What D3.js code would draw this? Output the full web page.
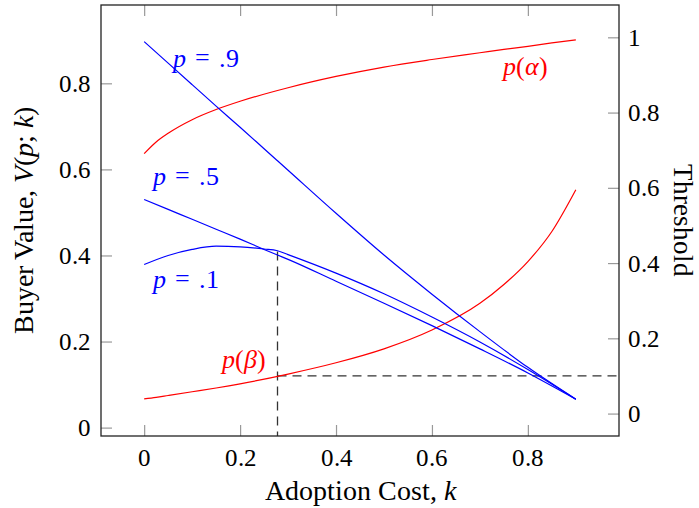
<!DOCTYPE html>
<html>
<head>
<meta charset="utf-8">
<script src="https://cdn.jsdelivr.net/npm/d3@7"></script>
<style>
  @font-face { font-family: "ChartSerif"; font-style: normal;
    src: local("Liberation Serif"), local("LiberationSerif"), local("LiberationSerif-Regular"),
         local("DejaVu Serif"), local("DejaVuSerif"), local("Tinos"); }
  @font-face { font-family: "ChartSerif"; font-style: italic;
    src: local("Liberation Serif Italic"), local("LiberationSerif-Italic"),
         local("DejaVu Serif Italic"), local("DejaVuSerif-Italic"), local("Tinos Italic"); }
  body { margin: 0; background: #fff; }
  svg text { font-family: ChartSerif, "Liberation Serif", "DejaVu Serif", serif; }
</style>
</head>
<body>
<div id="chart"></div>
<script>
var width = 699, height = 508;
var margin = {left: 101, right: 80, top: 5, bottom: 72};
var serif = 'ChartSerif, "Liberation Serif", "DejaVu Serif", serif';

// adoption cost samples and buyer values (left axis)
var kBlue = [0, .05, .1, .15, .2, .25, .278, .3, .4, .5, .6, .7, .8, .9];
var valueP1 = [.379, .400, .414, .4215, .420, .415, .411, .402, .359, .311, .257, .199, .135, .066];
var valueP5 = [.530, .507, .484, .461, .438, .414, .401, .391, .340, .289, .237, .183, .127, .066];
var valueP9 = [.897, .847, .797, .747, .698, .648, .620, .598, .498, .401, .310, .223, .140, .066];

// thresholds (right axis)
var kRed = [0, .025, .05, .1, .15, .2, .3, .4, .5, .6, .7, .75, .8, .85, .9];
var pAlpha = [.691, .722, .745, .781, .808, .830, .866, .896, .921, .941, .959, .968, .976, .985, .993];
var pBeta  = [.039, .043, .048, .058, .068, .079, .105, .135, .172, .222, .293, .343, .404, .484, .595];

// cutoff point
var cutK = 0.278, cutValue = 0.409, cutThreshold = 0.1;

var xTicks = [0, .2, .4, .6, .8];
var xTickLabels = ["0", "0.2", "0.4", "0.6", "0.8"];
var leftTicks = [0, .2, .4, .6, .8];
var leftTickLabels = ["0", "0.2", "0.4", "0.6", "0.8"];
var rightTicks = [0, .2, .4, .6, .8, 1];
var rightTickLabels = ["0", "0.2", "0.4", "0.6", "0.8", "1"];

var x = d3.scaleLinear().domain([-0.09, 0.99]).range([margin.left, width - margin.right]);
var yLeft = d3.scaleLinear().domain([-0.0195, 0.982]).range([height - margin.bottom, margin.top]);
var yRight = d3.scaleLinear().domain([-0.0596, 1.0859]).range([height - margin.bottom, margin.top]);

var svg = d3.select("#chart")
    .append("svg")
    .attr("width", width)
    .attr("height", height);

// axes (ticks point inwards)
function styleAxis(g) {
  g.attr("font-family", serif);
  g.select(".domain").remove();
  g.selectAll(".tick line").attr("stroke", "#999").attr("stroke-width", 1.2);
  g.selectAll(".tick text").attr("fill", "#000").style("font-size", "25px");
}

svg.append("g")
    .attr("transform", "translate(0," + (height - margin.bottom) + ")")
    .call(d3.axisBottom(x).tickValues(xTicks).tickSize(-11).tickPadding(12)
      .tickFormat(function(d, i) { return xTickLabels[i]; }))
    .call(styleAxis);

svg.append("g")
    .attr("transform", "translate(0," + margin.top + ")")
    .call(d3.axisTop(x).tickValues(xTicks).tickSize(-11).tickFormat(""))
    .call(styleAxis);

svg.append("g")
    .attr("transform", "translate(" + margin.left + ",0)")
    .call(d3.axisLeft(yLeft).tickValues(leftTicks).tickSize(-11).tickPadding(10)
      .tickFormat(function(d, i) { return leftTickLabels[i]; }))
    .call(styleAxis);

svg.append("g")
    .attr("transform", "translate(" + (width - margin.right) + ",0)")
    .call(d3.axisRight(yRight).tickValues(rightTicks).tickSize(-11).tickPadding(9)
      .tickFormat(function(d, i) { return rightTickLabels[i]; }))
    .call(styleAxis);

// dashed cutoff lines
svg.append("line")
    .attr("x1", x(cutK)).attr("x2", x(cutK))
    .attr("y1", yLeft(cutValue)).attr("y2", height - margin.bottom)
    .attr("stroke", "#333").attr("stroke-width", 1.3).attr("stroke-dasharray", "9,6");

svg.append("line")
    .attr("x1", x(cutK)).attr("x2", width - margin.right)
    .attr("y1", yRight(cutThreshold)).attr("y2", yRight(cutThreshold))
    .attr("stroke", "#333").attr("stroke-width", 1.3).attr("stroke-dasharray", "9,6");

// curves
function drawCurve(ks, vs, yScale, color) {
  var line = d3.line()
      .x(function(d) { return x(d[0]); })
      .y(function(d) { return yScale(d[1]); })
      .curve(d3.curveMonotoneX);
  svg.append("path")
      .datum(d3.zip(ks, vs))
      .attr("d", line)
      .attr("fill", "none")
      .attr("stroke", color)
      .attr("stroke-width", 1.2);
}

drawCurve(kRed, pAlpha, yRight, "#ff0000");
drawCurve(kRed, pBeta, yRight, "#ff0000");
drawCurve(kBlue, valueP9, yLeft, "#0000ff");
drawCurve(kBlue, valueP5, yLeft, "#0000ff");
drawCurve(kBlue, valueP1, yLeft, "#0000ff");

// frame
svg.append("rect")
    .attr("x", margin.left).attr("y", margin.top)
    .attr("width", width - margin.left - margin.right)
    .attr("height", height - margin.top - margin.bottom)
    .attr("fill", "none").attr("stroke", "#222").attr("stroke-width", 1.3);

// curve labels
function label(k, v, name) {
  var t = svg.append("text")
      .attr("x", x(k)).attr("y", yLeft(v))
      .attr("fill", "#0000ff")
      .style("font-size", "26px");
  t.append("tspan").style("font-style", "italic").text("p");
  t.append("tspan").text("\u2004=\u2004" + name);
}

label(0.06, 0.839, ".9");
label(0.019, 0.563, ".5");
label(0.019, 0.324, ".1");

function labelRed(k, v, sym) {
  var t = svg.append("text")
      .attr("x", x(k)).attr("y", yRight(v))
      .attr("fill", "#ff0000")
      .style("font-size", "26px");
  t.append("tspan").style("font-style", "italic").text("p");
  t.append("tspan").text("(");
  t.append("tspan").style("font-style", "italic").text(sym);
  t.append("tspan").text(")");
}

labelRed(0.748, 0.9, "α");
labelRed(0.1625, 0.121, "β");

// axis titles
var xTitle = svg.append("text")
    .attr("x", (margin.left + width - margin.right) / 2)
    .attr("y", 500)
    .attr("text-anchor", "middle")
    .style("font-size", "28px");
xTitle.append("tspan").text("Adoption Cost, ");
xTitle.append("tspan").style("font-style", "italic").text("k");

var yTitle = svg.append("text")
    .attr("transform", "translate(33," + ((margin.top + height - margin.bottom) / 2) + ") rotate(-90)")
    .attr("text-anchor", "middle")
    .style("font-size", "28px");
yTitle.append("tspan").text("Buyer Value, ");
yTitle.append("tspan").style("font-style", "italic").text("V");
yTitle.append("tspan").text("(");
yTitle.append("tspan").style("font-style", "italic").text("p");
yTitle.append("tspan").text("; ");
yTitle.append("tspan").style("font-style", "italic").text("k");
yTitle.append("tspan").text(")");

svg.append("text")
    .attr("transform", "translate(674," + ((margin.top + height - margin.bottom) / 2) + ") rotate(90)")
    .attr("text-anchor", "middle")
    .style("font-size", "27px")
    .text("Threshold");
</script>
</body>
</html>
